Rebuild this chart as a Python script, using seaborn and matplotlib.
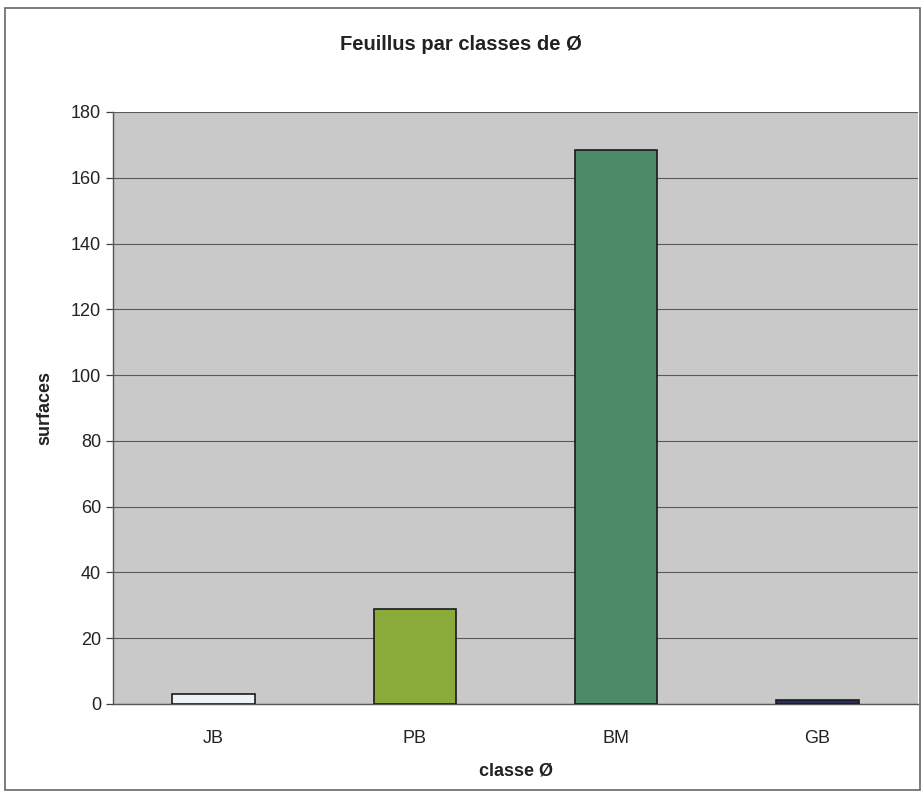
import matplotlib
matplotlib.use("Agg")
import matplotlib.pyplot as plt
import seaborn as sns
import pandas as pd
from matplotlib.patches import Rectangle

categories = ["JB", "PB", "BM", "GB"]
values = [3, 29, 168.5, 1.2]
colors = ["#eef3f8", "#8aab3a", "#4d8a68", "#2c2f5c"]
yticks = [0, 20, 40, 60, 80, 100, 120, 140, 160, 180]

sns.set_theme(style="white")
plt.rcParams['font.family'] = ['Liberation Sans', 'DejaVu Sans']

fig = plt.figure(figsize=(9.22, 8), dpi=100)
fig.patch.set_facecolor("white")
ax = fig.add_axes([113/922, 1-704/800, (918-113)/922, (704-112)/800])
ax.set_facecolor("#c9c9c9")

df = pd.DataFrame({"classe": categories, "surface": values})
sns.barplot(data=df, x="classe", y="surface", hue="classe", palette=colors,
            saturation=1, width=0.41, edgecolor="#1a1a1a", linewidth=1.2,
            legend=False, ax=ax, zorder=3)

ax.set_ylim(0, 180)
ax.set_xlim(-0.5, 3.5)
ax.set_yticks(yticks)
ax.yaxis.grid(True, color="#5a5a5a", linewidth=0.8, zorder=0)
ax.set_axisbelow(True)
ax.set_xticks(range(len(categories)))
ax.set_xticklabels(categories)
ax.set_xticks([0.5, 1.5, 2.5], minor=True)
ax.tick_params(axis="x", which="major", length=0, pad=19, labelsize=13, colors="#222222")
ax.tick_params(axis="x", which="minor", length=5, width=0.9, color="#444444", direction="out")
ax.tick_params(axis="y", length=5, width=0.9, color="#444444", direction="out", labelsize=13, labelcolor="#222222", left=True)
for s in ["top", "right"]:
    ax.spines[s].set_visible(False)
for s in ["left", "bottom"]:
    ax.spines[s].set_color("#555555")
    ax.spines[s].set_linewidth(1.0)

ax.set_xlabel("classe Ø", fontsize=13, fontweight="bold", labelpad=11, color="#222222")
ax.set_ylabel("surfaces", fontsize=13, fontweight="bold", labelpad=13, color="#222222")
fig.text(0.5, 1-45/800, "Feuillus par classes de Ø", ha="center", va="center",
         fontsize=14.5, fontweight="bold", color="#222222")

fig.patches.append(Rectangle((5/922, 1-790/800), 915/922, 782/800, transform=fig.transFigure,
                             fill=False, edgecolor="#666666", linewidth=1.2))

fig.savefig("out.png", dpi=100)
